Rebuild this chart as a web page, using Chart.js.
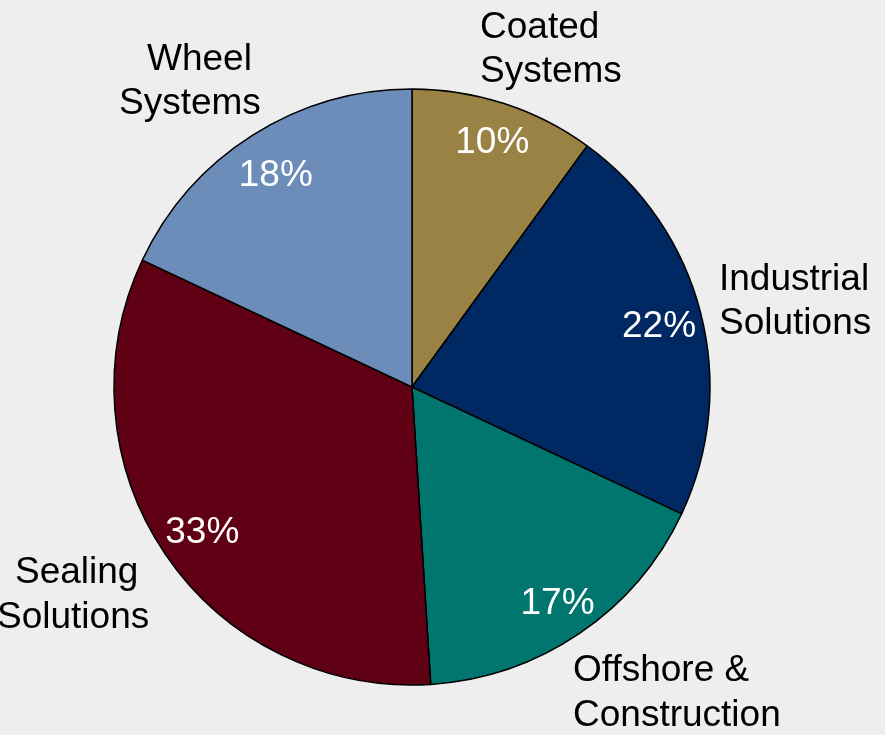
<!DOCTYPE html>
<html>
<head>
<meta charset="utf-8">
<script src="https://cdn.jsdelivr.net/npm/chart.js@4/dist/chart.umd.min.js"></script>
<style>
  html, body { margin: 0; padding: 0; background: #eeeeee; }
  #wrap { width: 885px; height: 735px; position: relative; }
</style>
</head>
<body>
<div id="wrap"><canvas id="pie" width="885" height="735"></canvas></div>
<script>
// Segments, clockwise from 12 o'clock
const segmentNames = [
  ['Coated', 'Systems'],
  ['Industrial', 'Solutions'],
  ['Offshore &', 'Construction'],
  ['Sealing', 'Solutions'],
  ['Wheel', 'Systems']
];
const segmentShares = [10, 22, 17, 33, 18];
const segmentColors = ['#9a8244', '#002862', '#00766e', '#600014', '#6c8cba'];

// Text styling
const FONT_FAMILY = '"Liberation Sans", Arial, Helvetica, sans-serif';
const FONT_SIZE = 37;
const CAP_HALF = FONT_SIZE * 0.716 / 2;
// Radial placement of the percentage inside each slice (fraction of outer radius)
const innerLabelRadius = [0.872, 0.856, 0.869, 0.851, 0.853];

// Outside name labels: per-line [dx, dy] from pie centre (left-aligned, baseline)
const nameLineOffsets = [
  [[68, -349], [68, -305]],
  [[307, -97], [307, -53]],
  [[161, 294], [161, 339]],
  [[-397, 196], [-415, 241]],
  [[-265, -317], [-293, -273]]
];

const sliceLabels = {
  id: 'sliceLabels',
  afterDatasetsDraw(chart) {
    const ctx = chart.ctx;
    const meta = chart.getDatasetMeta(0);
    const values = chart.data.datasets[0].data;
    const total = values.reduce((a, b) => a + b, 0);
    ctx.save();
    ctx.font = FONT_SIZE + 'px ' + FONT_FAMILY;
    ctx.textBaseline = 'alphabetic';
    meta.data.forEach((arc, i) => {
      const p = arc.getProps(['x', 'y', 'startAngle', 'endAngle', 'outerRadius'], true);
      const mid = (p.startAngle + p.endAngle) / 2;
      const r = p.outerRadius * innerLabelRadius[i];
      ctx.fillStyle = '#ffffff';
      ctx.textAlign = 'center';
      ctx.fillText(Math.round(values[i] / total * 100) + '%',
        p.x + Math.cos(mid) * r, p.y + Math.sin(mid) * r + CAP_HALF);

      ctx.fillStyle = '#000000';
      ctx.textAlign = 'left';
      chart.data.labels[i].forEach((line, j) => {
        const off = nameLineOffsets[i][j];
        ctx.fillText(line, p.x + off[0], p.y + off[1]);
      });
    });
    ctx.restore();
  }
};

new Chart(document.getElementById('pie'), {
  type: 'pie',
  data: {
    labels: segmentNames,
    datasets: [{
      data: segmentShares,
      backgroundColor: segmentColors,
      borderColor: '#000000',
      borderWidth: 1.5,
      radius: 298
    }]
  },
  options: {
    responsive: false,
    animation: false,
    layout: { padding: { top: 88, bottom: 49, left: 0, right: 61 } },
    plugins: {
      legend: { display: false },
      tooltip: { enabled: false }
    }
  },
  plugins: [sliceLabels]
});
</script>
</body>
</html>
